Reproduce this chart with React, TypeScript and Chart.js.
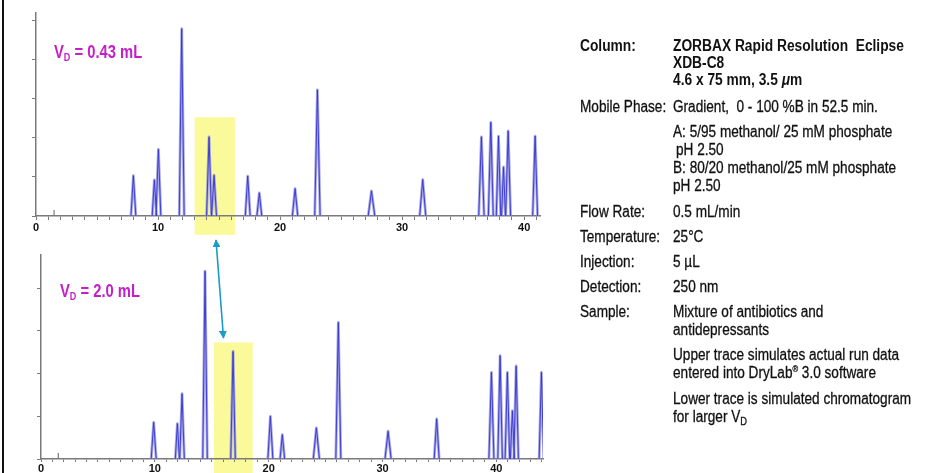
import React, { useEffect, useRef } from 'react';
import { Chart, registerables } from 'chart.js';

Chart.register(...registerables);

// ---------- Data ----------
// Upper trace: V_D = 0.43 mL (retention time in min, relative height, half base width in min)
const upperTimes = [7.98, 9.7, 10.03, 11.94, 14.18, 14.59, 17.35, 18.3, 21.23, 23.06, 27.49, 31.69, 36.5, 37.27, 37.9, 38.31, 38.69, 40.9];
const upperHeights = [1.03, 0.92, 1.7, 4.78, 2.02, 1.04, 1.02, 0.59, 0.7, 3.22, 0.64, 0.93, 2.02, 2.39, 2.04, 1.25, 2.17, 2.04];
const upperHalfWidths = [0.2, 0.18, 0.2, 0.2, 0.2, 0.2, 0.2, 0.2, 0.22, 0.22, 0.27, 0.25, 0.22, 0.2, 0.18, 0.16, 0.2, 0.2];
const upperInjection = [1.48, 0.15];
const upperHighlight = [13.0, 16.3, 2.52, -0.48];
const upperXMax = 41.3;
const upperYMax = 5.18;

// Lower trace: V_D = 2.0 mL
const lowerTimes = [9.9, 11.98, 12.39, 14.41, 16.87, 20.15, 21.2, 24.19, 26.12, 30.49, 34.76, 39.57, 40.33, 40.97, 41.41, 41.74, 43.96];
const lowerHeights = [0.86, 0.83, 1.53, 4.4, 2.52, 1.0, 0.57, 0.73, 3.2, 0.65, 0.94, 2.03, 2.42, 2.03, 1.13, 2.18, 2.03];
const lowerHalfWidths = [0.22, 0.18, 0.2, 0.2, 0.2, 0.22, 0.2, 0.27, 0.22, 0.27, 0.22, 0.22, 0.2, 0.2, 0.18, 0.2, 0.2];
const lowerInjection = [1.52, 0.14];
const lowerHighlight = [15.2, 18.6, 2.73, -0.6];
const lowerXMax = 44.1;
const lowerYMax = 4.78;

const xTickLabels = [0, 10, 20, 30, 40];

// ---------- helpers ----------
function peakPoints(times: number[], heights: number[], halfWidths: number[]) {
  const pts: { x: number; y: number | null }[] = [];
  times.forEach((t, i) => {
    const w = halfWidths[i];
    pts.push({ x: t - w, y: 0 }, { x: t, y: heights[i] }, { x: t + w, y: 0 }, { x: t + w, y: null });
  });
  return pts;
}

const highlightPlugin = {
  id: 'highlight',
  beforeDraw(chart: any, _args: any, opts: any) {
    const { ctx, scales } = chart;
    const x = scales.x;
    const y = scales.y;
    const l = x.getPixelForValue(opts.from);
    const r = x.getPixelForValue(opts.to);
    const t = y.getPixelForValue(opts.top);
    const b = y.getPixelForValue(opts.bottom);
    ctx.save();
    ctx.fillStyle = opts.color;
    ctx.fillRect(l, t, r - l, b - t);
    ctx.restore();
  },
};

type TraceProps = {
  times: number[];
  heights: number[];
  halfWidths: number[];
  injection: number[];
  highlight: number[];
  xMax: number;
  yMax: number;
  width: number;
  height: number;
  padding: { left: number; right: number; top: number; bottom: number };
  xAxisHeight: number;
  tickLength: number;
  labelPadding: number;
  style: React.CSSProperties;
};

function Trace(p: TraceProps) {
  const ref = useRef<HTMLCanvasElement | null>(null);
  useEffect(() => {
    if (!ref.current) return;
    const axisGrey = '#7a7a7a';
    const chart = new Chart(ref.current, {
      type: 'line',
      data: {
        datasets: [
          {
            // dark core stroke (drawn on top)
            data: peakPoints(p.times, p.heights, p.halfWidths) as any,
            borderColor: '#3333cf',
            borderWidth: 0.9,
            borderJoinStyle: 'round',
            pointRadius: 0,
            tension: 0,
            spanGaps: false,
            order: 1,
          },
          {
            // light halo
            data: peakPoints(p.times, p.heights, p.halfWidths) as any,
            borderColor: 'rgba(146,146,226,0.8)',
            borderWidth: 2.8,
            borderJoinStyle: 'round',
            pointRadius: 0,
            tension: 0,
            spanGaps: false,
            order: 2,
          },
          {
            data: [
              { x: p.injection[0], y: 0 },
              { x: p.injection[0], y: p.injection[1] },
            ],
            borderColor: axisGrey,
            borderWidth: 1.2,
            pointRadius: 0,
            order: 3,
          },
        ],
      },
      options: {
        animation: false,
        responsive: false,
        events: [],
        layout: { padding: p.padding },
        plugins: {
          legend: { display: false },
          tooltip: { enabled: false },
          highlight: {
            from: p.highlight[0],
            to: p.highlight[1],
            top: p.highlight[2],
            bottom: p.highlight[3],
            color: '#fafa9a',
          },
        } as any,
        scales: {
          x: {
            type: 'linear',
            min: 0,
            max: p.xMax,
            afterFit: (s: any) => {
              s.height = p.xAxisHeight;
            },
            grid: { drawOnChartArea: false, drawTicks: true, tickLength: p.tickLength, color: axisGrey, lineWidth: 1 },
            border: { display: true, color: axisGrey, width: 1.5 },
            ticks: {
              stepSize: 1,
              autoSkip: false,
              maxRotation: 0,
              includeBounds: false,
              padding: p.labelPadding,
              color: '#111',
              font: { family: '"Liberation Sans", Arial, sans-serif', weight: 'bold', size: 11 },
              callback: (v: any) => {
                const n = Number(v);
                return xTickLabels.some((k) => Math.abs(k - n) < 1e-6) ? String(Math.round(n)) : '';
              },
            },
          },
          y: {
            type: 'linear',
            min: 0,
            max: p.yMax,
            afterFit: (s: any) => {
              s.width = 10;
            },
            grid: { drawOnChartArea: false, drawTicks: true, tickLength: 4, color: axisGrey, lineWidth: 1 },
            border: { display: true, color: axisGrey, width: 1.5 },
            ticks: { display: false, stepSize: 1, includeBounds: false },
          },
        },
      },
      plugins: [highlightPlugin as any],
    });
    return () => chart.destroy();
  }, []);
  return <canvas ref={ref} width={p.width} height={p.height} style={{ position: 'absolute', width: p.width, height: p.height, ...p.style }} />;
}

const textFont = '"Liberation Sans", Arial, sans-serif';

function T({ x, y, bold, children }: { x: number; y: number; bold?: boolean; children: React.ReactNode }) {
  return (
    <div
      style={{
        position: 'absolute',
        left: x,
        top: y - 9,
        height: 18,
        lineHeight: '18px',
        fontSize: 16,
        fontWeight: bold ? 'bold' : 'normal',
        whiteSpace: 'pre',
        color: '#111',
        fontFamily: textFont,
        transform: `scaleX(${bold ? 0.86 : 0.85})`,
        transformOrigin: 'left center',
        WebkitTextStroke: bold ? '0px' : '0.3px #111',
      }}
    >
      {children}
    </div>
  );
}

const supStyle: React.CSSProperties = { fontSize: 9, lineHeight: 0, position: 'relative', top: -6, verticalAlign: 'baseline' };
const subStyle: React.CSSProperties = { fontSize: 11, lineHeight: 0, position: 'relative', top: 3, verticalAlign: 'baseline' };

function VLabel({ x, y, value }: { x: number; y: number; value: string }) {
  return (
    <div
      style={{
        position: 'absolute',
        left: x,
        top: y - 11,
        height: 22,
        lineHeight: '22px',
        fontSize: 18,
        fontWeight: 'bold',
        color: '#c41ec8',
        whiteSpace: 'pre',
        fontFamily: textFont,
        transform: 'scaleX(0.82)',
        transformOrigin: 'left center',
      }}
    >
      V<span style={subStyle}>D</span>{' = ' + value}
    </div>
  );
}

export default function App() {
  const L = 580;
  const R = 673;
  return (
    <div style={{ position: 'absolute', left: 0, top: 0, width: 929, height: 473, background: '#fff', overflow: 'hidden' }}>
      <div style={{ position: 'absolute', left: 2, top: 0, width: 2, height: 473, background: '#111' }} />
      <Trace
        times={upperTimes}
        heights={upperHeights}
        halfWidths={upperHalfWidths}
        injection={upperInjection}
        highlight={upperHighlight}
        xMax={upperXMax}
        yMax={upperYMax}
        width={560}
        height={240}
        padding={{ left: 26, right: 20, top: 13, bottom: 4 }}
        xAxisHeight={20}
        tickLength={4}
        labelPadding={1}
        style={{ left: 0, top: 0 }}
      />
      <Trace
        times={lowerTimes}
        heights={lowerHeights}
        halfWidths={lowerHalfWidths}
        injection={lowerInjection}
        highlight={lowerHighlight}
        xMax={lowerXMax}
        yMax={lowerYMax}
        width={560}
        height={233}
        padding={{ left: 31, right: 17, top: 15, bottom: 0 }}
        xAxisHeight={14}
        tickLength={3}
        labelPadding={0}
        style={{ left: 0, top: 240 }}
      />
      <svg width={929} height={473} style={{ position: 'absolute', left: 0, top: 0, pointerEvents: 'none' }}>
        <defs>
          <marker id="ah" viewBox="0 0 10 10" refX="9" refY="5" markerWidth="5" markerHeight="5" orient="auto-start-reverse">
            <path d="M0,0 L10,5 L0,10 z" fill="#1a9cc6" />
          </marker>
        </defs>
        <line x1={216} y1={240} x2={223.5} y2={338} stroke="#1a9cc6" strokeWidth={1.6} markerStart="url(#ah)" markerEnd="url(#ah)" />
      </svg>
      <VLabel x={54} y={52} value="0.43 mL" />
      <VLabel x={60} y={291} value="2.0 mL" />

      <T x={L} y={46} bold>Column:</T>
      <T x={R} y={46} bold>ZORBAX Rapid Resolution  Eclipse</T>
      <T x={R} y={63} bold>XDB-C8</T>
      <T x={R} y={80} bold>
        4.6 x 75 mm, 3.5 <i>μ</i>m
      </T>
      <T x={L} y={107}>Mobile Phase:</T>
      <T x={R} y={107}>Gradient,  0 - 100 %B in 52.5 min.</T>
      <T x={R} y={132}>A: 5/95 methanol/ 25 mM phosphate</T>
      <T x={R + 3} y={150}>pH 2.50</T>
      <T x={R} y={168}>B: 80/20 methanol/25 mM phosphate</T>
      <T x={R} y={186}>pH 2.50</T>
      <T x={L} y={212}>Flow Rate:</T>
      <T x={R} y={212}>0.5 mL/min</T>
      <T x={L} y={237}>Temperature:</T>
      <T x={R} y={237}>25°C</T>
      <T x={L} y={262}>Injection:</T>
      <T x={R} y={262}>5 µL</T>
      <T x={L} y={287}>Detection:</T>
      <T x={R} y={287}>250 nm</T>
      <T x={L} y={312}>Sample:</T>
      <T x={R} y={312}>Mixture of antibiotics and</T>
      <T x={R} y={330}>antidepressants</T>
      <T x={R} y={355}>Upper trace simulates actual run data</T>
      <T x={R} y={373}>
        entered into DryLab<span style={supStyle}>®</span> 3.0 software
      </T>
      <T x={R} y={399}>Lower trace is simulated chromatogram</T>
      <T x={R} y={417}>
        for larger V<span style={subStyle}>D</span>
      </T>
    </div>
  );
}
